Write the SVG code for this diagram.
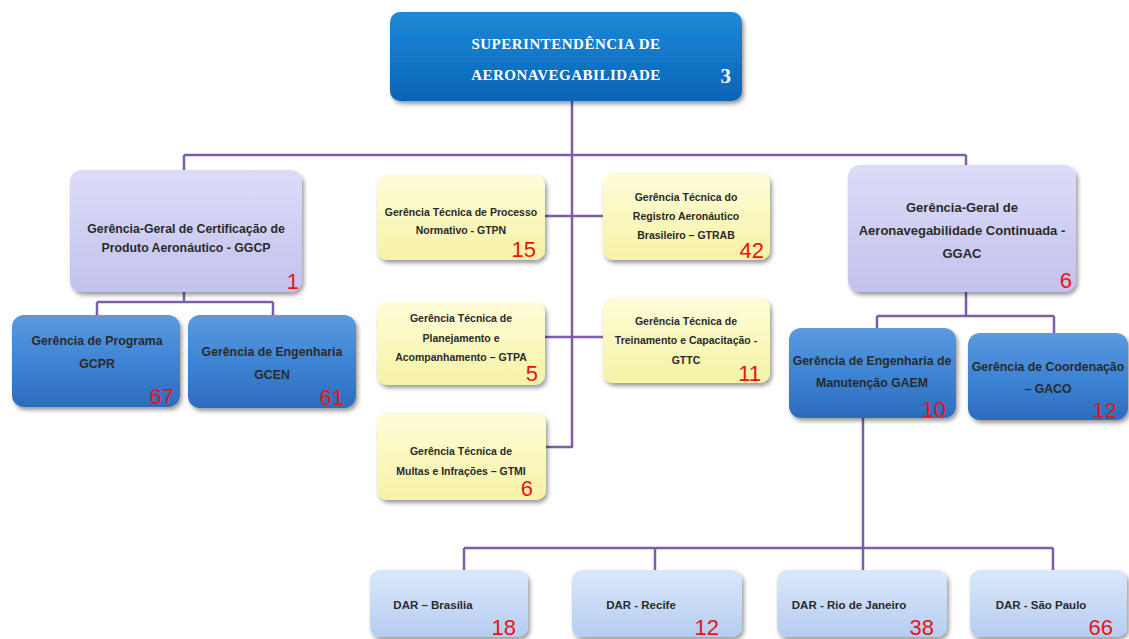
<svg xmlns="http://www.w3.org/2000/svg" width="1129" height="639" viewBox="0 0 1129 639">
<defs>
<linearGradient id="gTop" x1="0" y1="0" x2="0" y2="1"><stop offset="0" stop-color="#1e8ad9"/><stop offset="1" stop-color="#0863b6"/></linearGradient>
<linearGradient id="gBlue" x1="0" y1="0" x2="0" y2="1"><stop offset="0" stop-color="#5a9ae0"/><stop offset="0.5" stop-color="#3f84d4"/><stop offset="1" stop-color="#2c6cbd"/></linearGradient>
<linearGradient id="gLav" x1="0" y1="0" x2="0" y2="1"><stop offset="0" stop-color="#dcdcf8"/><stop offset="1" stop-color="#c2c2ee"/></linearGradient>
<linearGradient id="gYel" x1="0" y1="0" x2="0" y2="1"><stop offset="0" stop-color="#fefdd8"/><stop offset="1" stop-color="#f6f2a6"/></linearGradient>
<linearGradient id="gDar" x1="0" y1="0" x2="0" y2="1"><stop offset="0" stop-color="#dbe8fb"/><stop offset="1" stop-color="#b5cdf1"/></linearGradient>
<filter id="sh" x="-10%" y="-10%" width="125%" height="130%"><feDropShadow dx="2" dy="3" stdDeviation="2" flood-color="#000" flood-opacity="0.4"/></filter>
<style>
.box{filter:url(#sh)}
.t{font-family:"Liberation Sans",Arial,sans-serif;font-weight:bold;font-size:12.3px;fill:#2a2a2a;text-anchor:middle}
.y{font-size:10.5px}
.d{font-size:11.5px}
.g{font-size:13px}
.n{font-family:"Liberation Sans",Arial,sans-serif;font-size:22px;fill:#ee1111;text-anchor:end}
.top{font-family:"Liberation Serif","Times New Roman",serif;font-weight:bold;font-size:15px;fill:#ffffff;text-anchor:middle}
.top3{font-family:"Liberation Serif","Times New Roman",serif;font-weight:bold;font-size:21px;fill:#ffffff;text-anchor:end}
.c{fill:none;stroke:#7d5ea6;stroke-width:2.5}
</style>
</defs>
<rect width="1129" height="639" fill="#ffffff"/>
<g id="connectors">
<path class="c" d="M572,101 V155 M184,155 H966 M184,155 V170 M966,155 V166 M572,155 V447 H546 M545,216 H604 M545,337 H604"/>
<path class="c" d="M184,292 V302 M97,302 H273 M97,302 V315 M273,302 V315"/>
<path class="c" d="M966,292 V316 M877,316 H1054 M877,316 V328 M1054,316 V333"/>
<path class="c" d="M863,418 V548 M464,548 H1053 M464,548 V570 M655,548 V570 M863,548 V570 M1053,548 V570"/>
</g>
<g id="sup"><rect class="box" x="390" y="12" width="352" height="89" rx="10" fill="url(#gTop)"/>
<text class="top" x="566" y="49" letter-spacing="0.5">SUPERINTENDÊNCIA  DE</text>
<text class="top" x="566" y="80" letter-spacing="0.5">AERONAVEGABILIDADE</text>
<text class="top3" x="731" y="83">3</text></g>
<g id="ggcp"><rect class="box" x="70" y="170" width="232" height="122" rx="12" fill="url(#gLav)"/>
<text class="t" x="186" y="233">Gerência-Geral de Certificação de</text>
<text class="t" x="186" y="252">Produto Aeronáutico  - GGCP</text>
<text class="n" x="299" y="289">1</text></g>
<g id="gcpr"><rect class="box" x="12" y="315" width="168" height="92" rx="12" fill="url(#gBlue)"/>
<text class="t" x="97" y="345">Gerência de Programa</text>
<text class="t" x="97" y="368">GCPR</text>
<text class="n" x="174" y="404">67</text></g>
<g id="gcen"><rect class="box" x="188" y="315" width="168" height="93" rx="12" fill="url(#gBlue)"/>
<text class="t" x="272" y="356">Gerência de Engenharia</text>
<text class="t" x="272" y="379">GCEN</text>
<text class="n" x="344" y="405">61</text></g>
<g id="gtpn"><rect class="box" x="377" y="175" width="168" height="85" rx="10" fill="url(#gYel)"/>
<text class="t y" x="461" y="216">Gerência Técnica de Processo</text>
<text class="t y" x="461" y="234">Normativo - GTPN</text>
<text class="n" x="536" y="257">15</text></g>
<g id="gtrab"><rect class="box" x="603" y="173" width="167" height="87" rx="10" fill="url(#gYel)"/>
<text class="t y" x="686" y="201">Gerência Técnica do</text>
<text class="t y" x="686" y="220">Registro Aeronáutico</text>
<text class="t y" x="686" y="239">Brasileiro – GTRAB</text>
<text class="n" x="764" y="258">42</text></g>
<g id="gtpa"><rect class="box" x="377" y="302" width="168" height="83" rx="10" fill="url(#gYel)"/>
<text class="t y" x="461" y="322">Gerência Técnica de</text>
<text class="t y" x="461" y="342">Planejamento e</text>
<text class="t y" x="461" y="361">Acompanhamento – GTPA</text>
<text class="n" x="538" y="381">5</text></g>
<g id="gttc"><rect class="box" x="603" y="298" width="167" height="85" rx="10" fill="url(#gYel)"/>
<text class="t y" x="686" y="325">Gerência Técnica de</text>
<text class="t y" x="686" y="344">Treinamento e Capacitação -</text>
<text class="t y" x="686" y="364">GTTC</text>
<text class="n" x="761" y="381">11</text></g>
<g id="gtmi"><rect class="box" x="377" y="413" width="169" height="87" rx="10" fill="url(#gYel)"/>
<text class="t y" x="461" y="455">Gerência Técnica de</text>
<text class="t y" x="461" y="475">Multas e Infrações – GTMI</text>
<text class="n" x="533" y="496">6</text></g>
<g id="ggac"><rect class="box" x="848" y="165" width="228" height="127" rx="12" fill="url(#gLav)"/>
<text class="t g" x="962" y="212">Gerência-Geral de</text>
<text class="t g" x="962" y="235">Aeronavegabilidade Continuada -</text>
<text class="t g" x="962" y="258">GGAC</text>
<text class="n" x="1072" y="288">6</text></g>
<g id="gaem"><rect class="box" x="789" y="328" width="167" height="90" rx="12" fill="url(#gBlue)"/>
<text class="t" x="872" y="365">Gerência de Engenharia de</text>
<text class="t" x="872" y="387">Manutenção GAEM</text>
<text class="n" x="946" y="417">10</text></g>
<g id="gaco"><rect class="box" x="968" y="333" width="160" height="87" rx="12" fill="url(#gBlue)"/>
<text class="t" x="1048" y="371">Gerência de Coordenação</text>
<text class="t" x="1048" y="393">– GACO</text>
<text class="n" x="1117" y="418">12</text></g>
<g id="dar-bsb"><rect class="box" x="370" y="570" width="158" height="67" rx="10" fill="url(#gDar)"/>
<text class="t d" x="433" y="609">DAR – Brasília</text>
<text class="n" x="516" y="635">18</text></g>
<g id="dar-rec"><rect class="box" x="572" y="570" width="170" height="67" rx="10" fill="url(#gDar)"/>
<text class="t d" x="641" y="609">DAR - Recife</text>
<text class="n" x="719" y="635">12</text></g>
<g id="dar-rio"><rect class="box" x="777" y="570" width="170" height="67" rx="10" fill="url(#gDar)"/>
<text class="t d" x="849" y="609">DAR - Rio de Janeiro</text>
<text class="n" x="934" y="635">38</text></g>
<g id="dar-sp"><rect class="box" x="970" y="570" width="157" height="67" rx="10" fill="url(#gDar)"/>
<text class="t d" x="1041" y="609">DAR - São Paulo</text>
<text class="n" x="1113" y="635">66</text></g>
</svg>
